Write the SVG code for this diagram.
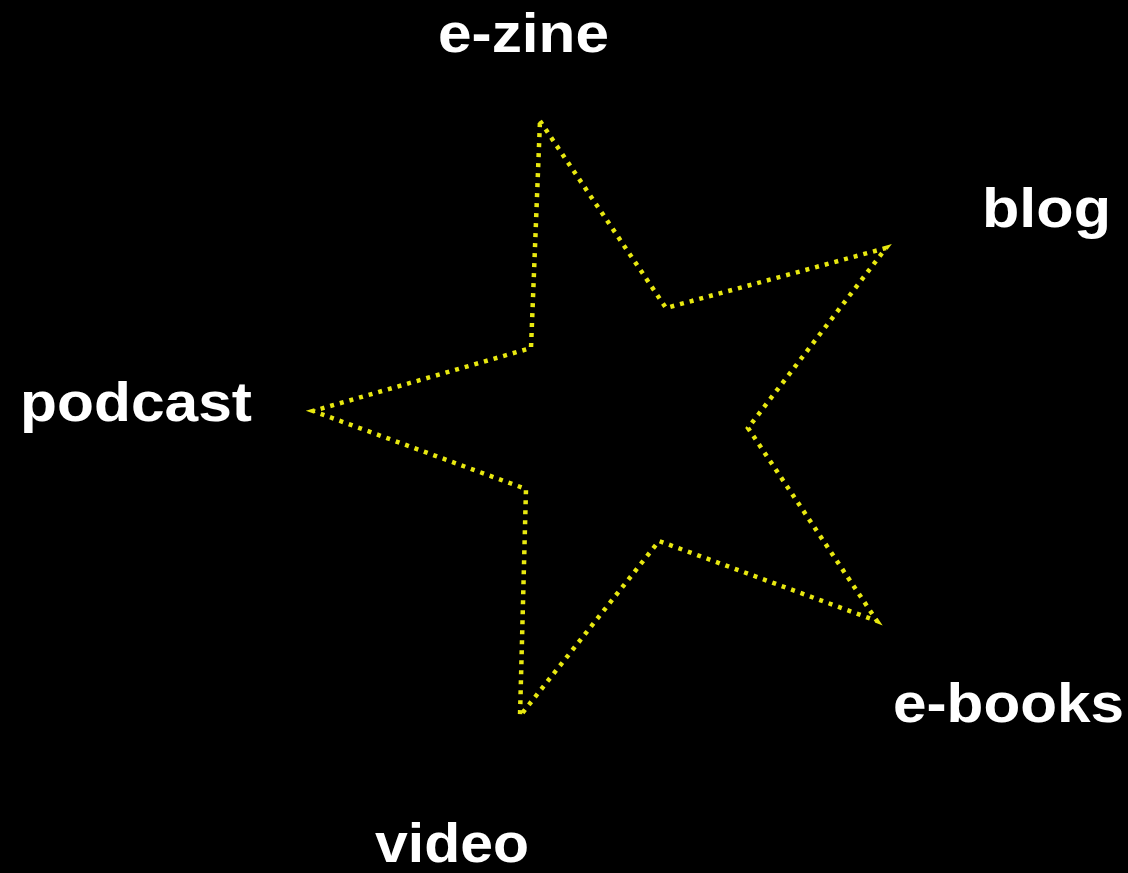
<svg xmlns="http://www.w3.org/2000/svg" width="1128" height="873" viewBox="0 0 1128 873">
<style>
.lbl{font-family:"Liberation Sans",Arial,sans-serif;font-weight:bold;font-size:56px;fill:#ffffff}
.star{fill:none;stroke:#e8e810;stroke-width:4.5;stroke-dasharray:4 6;stroke-linejoin:miter}
</style>
<rect x="0" y="0" width="1128" height="873" fill="#000000"/>
<g id="connectors">
<polygon class="star" points="540,121 666,308 886,248 748,428 877,621 659,541 520,716 526,489 313,411 531,348"/>
</g>
<g id="node-ezine"><text class="lbl" x="438" y="52" textLength="171" lengthAdjust="spacingAndGlyphs">e-zine</text></g>
<g id="node-blog"><text class="lbl" x="982" y="227" textLength="129" lengthAdjust="spacingAndGlyphs">blog</text></g>
<g id="node-podcast"><text class="lbl" x="20" y="421" textLength="232" lengthAdjust="spacingAndGlyphs">podcast</text></g>
<g id="node-ebooks"><text class="lbl" x="893" y="722" textLength="231" lengthAdjust="spacingAndGlyphs">e-books</text></g>
<g id="node-video"><text class="lbl" x="375" y="862" textLength="154" lengthAdjust="spacingAndGlyphs">video</text></g>
</svg>
